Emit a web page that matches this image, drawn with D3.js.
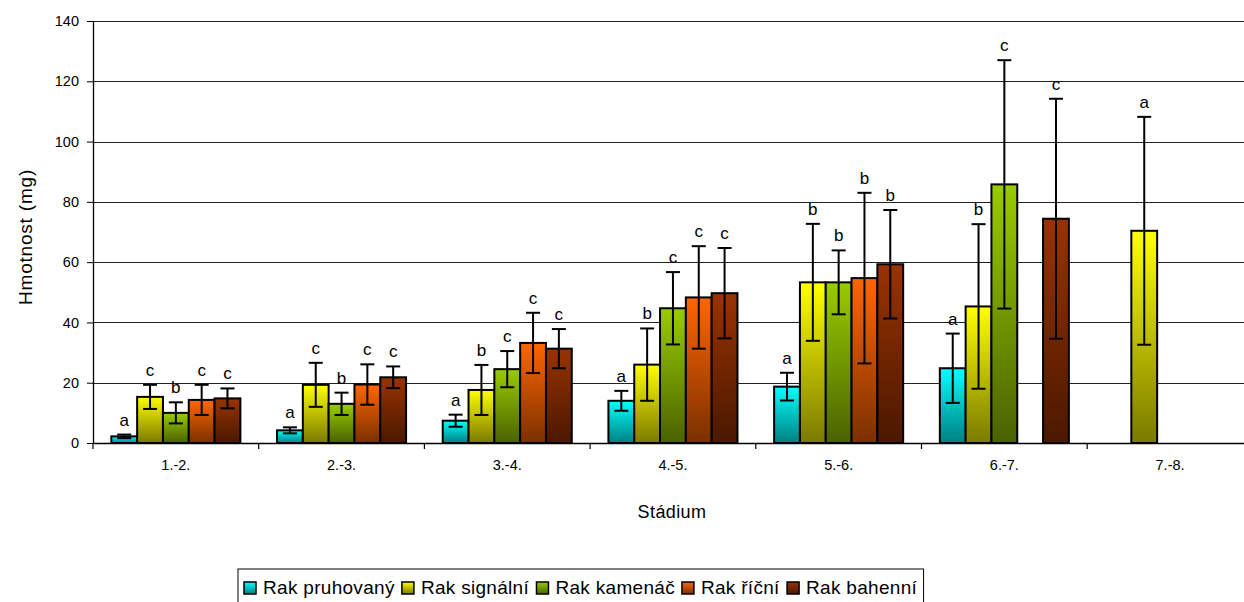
<!DOCTYPE html>
<html>
<head>
<meta charset="utf-8">
<script src="https://cdn.jsdelivr.net/npm/d3@7"></script>
<style>
  html, body { margin: 0; padding: 0; background: #fff; }
  svg { display: block; font-family: "Liberation Sans", Arial, sans-serif; }
</style>
</head>
<body>
<svg id="chart" width="1244" height="602"></svg>
<script>
// Growth stages and crayfish species
const stages = ["1.-2.", "2.-3.", "3.-4.", "4.-5.", "5.-6.", "6.-7.", "7.-8."];
const species = ["Rak pruhovaný", "Rak signální", "Rak kamenáč", "Rak říční", "Rak bahenní"];

// Mean weight (mg) per species, one value per stage (null = no data)
const pruhovany = [2.2, 4.2, 7.4, 14.0, 18.7, 24.8, null];
const signalni  = [15.3, 19.3, 17.6, 26.0, 53.3, 45.3, 70.4];
const kamenac   = [10.0, 13.0, 24.5, 44.7, 53.3, 85.8, null];
const ricni     = [14.3, 19.4, 33.2, 48.3, 54.7, null, null];
const bahenni   = [14.8, 21.8, 31.3, 49.7, 59.3, 74.4, null];

// Standard deviations (mg)
const pruhovanySd = [0.6, 1.0, 2.0, 3.3, 4.6, 11.5, null];
const signalniSd  = [4.0, 7.3, 8.3, 12.0, 19.4, 27.3, 37.8];
const kamenacSd   = [3.5, 3.7, 6.0, 12.0, 10.6, 41.2, null];
const ricniSd     = [5.0, 6.7, 10.0, 17.0, 28.3, null, null];
const bahenniSd   = [3.3, 3.6, 6.5, 15.0, 18.0, 39.8, null];

// Significance letters
const pruhovanyLbl = ["a", "a", "a", "a", "a", "a", ""];
const signalniLbl  = ["c", "c", "b", "b", "b", "b", "a"];
const kamenacLbl   = ["b", "b", "c", "c", "b", "c", ""];
const ricniLbl     = ["c", "c", "c", "c", "b", "", ""];
const bahenniLbl   = ["c", "c", "c", "c", "b", "c", ""];

const yTicks = [0, 20, 40, 60, 80, 100, 120, 140];

const means = [pruhovany, signalni, kamenac, ricni, bahenni];
const sds = [pruhovanySd, signalniSd, kamenacSd, ricniSd, bahenniSd];
const letters = [pruhovanyLbl, signalniLbl, kamenacLbl, ricniLbl, bahenniLbl];

// top / bottom colours of each bar gradient
const gradTop = ["#00ffff", "#ffff00", "#99cc00", "#ff6600", "#993300"];
const gradBot = ["#008080", "#7a7a00", "#4a6200", "#7a3000", "#4a1800"];

const svg = d3.select("#chart");

const plotLeft = 93, plotTop = 21, plotBottom = 443;
const bandW = 165.7;
const x = d3.scaleBand().domain(stages).range([plotLeft, plotLeft + bandW * stages.length]).paddingInner(0).paddingOuter(0);
const xs = d3.scaleBand().domain(d3.range(species.length)).range([0, x.bandwidth()]).paddingOuter(0.71).paddingInner(0);
const y = d3.scaleLinear().domain([0, 140]).range([plotBottom, plotTop]);

const defs = svg.append("defs");
species.forEach((s, i) => {
  const g = defs.append("linearGradient").attr("id", "grad" + i)
    .attr("x1", 0).attr("y1", 0).attr("x2", 0).attr("y2", 1);
  g.append("stop").attr("offset", "0%").attr("stop-color", gradTop[i]);
  g.append("stop").attr("offset", "100%").attr("stop-color", gradBot[i]);
});

// gridlines
svg.append("g").selectAll("line").data(yTicks.filter(d => d > 0)).join("line")
  .attr("x1", plotLeft).attr("x2", 1244)
  .attr("y1", d => Math.round(y(d)) + 0.5).attr("y2", d => Math.round(y(d)) + 0.5)
  .attr("stroke", "#222").attr("stroke-width", 1);

// y axis
const yAxis = svg.append("g").attr("transform", `translate(${plotLeft},0)`)
  .call(d3.axisLeft(y).tickValues(yTicks).tickSize(6).tickSizeOuter(0).tickPadding(8));
yAxis.select(".domain").attr("stroke", "#000").attr("stroke-width", 1.3);
yAxis.selectAll(".tick line").attr("stroke", "#000");
yAxis.selectAll("text").attr("font-size", 14.5).attr("fill", "#000").style("font-family", "Liberation Sans, Arial, sans-serif");

// bars
const rows = [];
stages.forEach((st, ci) => species.forEach((sp, si) => {
  if (means[si][ci] != null) rows.push({ st, si, v: means[si][ci], sd: sds[si][ci], lbl: letters[si][ci] });
}));

const barG = svg.append("g");
barG.selectAll("rect").data(rows).join("rect")
  .attr("x", d => x(d.st) + xs(d.si))
  .attr("width", xs.bandwidth())
  .attr("y", d => y(d.v))
  .attr("height", d => y(0) - y(d.v))
  .attr("fill", d => `url(#grad${d.si})`)
  .attr("stroke", "#000").attr("stroke-width", 2);

// x axis
const xAxis = svg.append("g").attr("transform", `translate(0,${plotBottom})`)
  .call(d3.axisBottom(x).tickSize(0).tickPadding(17));
xAxis.select(".domain").attr("stroke", "#000").attr("stroke-width", 1.3);
xAxis.selectAll("text").attr("font-size", 14.5).attr("fill", "#000").style("font-family", "Liberation Sans, Arial, sans-serif");
svg.append("g").selectAll("line").data(d3.range(stages.length + 1)).join("line")
  .attr("x1", i => plotLeft + i * bandW).attr("x2", i => plotLeft + i * bandW)
  .attr("y1", plotBottom).attr("y2", plotBottom + 6)
  .attr("stroke", "#000").attr("stroke-width", 1.2);

// error bars
const cx = d => x(d.st) + xs(d.si) + xs.bandwidth() / 2;
const errG = svg.append("g").attr("stroke", "#000").attr("stroke-width", 2);
rows.forEach(d => {
  const c = cx(d), y1 = y(d.v + d.sd), y2 = y(d.v - d.sd);
  errG.append("line").attr("x1", c).attr("x2", c).attr("y1", y1).attr("y2", y2);
  errG.append("line").attr("x1", c - 7).attr("x2", c + 7).attr("y1", y1).attr("y2", y1);
  errG.append("line").attr("x1", c - 7).attr("x2", c + 7).attr("y1", y2).attr("y2", y2);
});

// significance letters
svg.append("g").selectAll("text").data(rows.filter(d => d.lbl)).join("text")
  .attr("x", cx)
  .attr("y", d => y(d.v + d.sd) - 9)
  .attr("text-anchor", "middle")
  .attr("font-size", 17).attr("fill", "#000")
  .text(d => d.lbl);

// axis titles
svg.append("text").attr("transform", `translate(32,${(plotTop + plotBottom) / 2 + 5}) rotate(-90)`)
  .attr("text-anchor", "middle").attr("font-size", 19).attr("letter-spacing", 0.8).text("Hmotnost (mg)");
svg.append("text").attr("x", 672).attr("y", 518)
  .attr("text-anchor", "middle").attr("font-size", 18).attr("letter-spacing", 0.4).text("Stádium");

// legend (box runs past the bottom edge of the canvas)
const legend = svg.append("g");
const lgItems = legend.selectAll("g").data(species).join("g");
lgItems.append("rect").attr("y", -12).attr("width", 12).attr("height", 12)
  .attr("fill", (d, i) => `url(#grad${i})`).attr("stroke", "#000").attr("stroke-width", 1.5);
lgItems.append("text").attr("x", 19).attr("y", 0).attr("font-size", 19).attr("letter-spacing", 0.3).text(d => d);
let lx = 0;
lgItems.each(function () {
  d3.select(this).attr("transform", `translate(${lx},0)`);
  lx += this.getBBox().width + 7;
});
const lgW = lx - 7 + 12, lgX = 238;
legend.insert("rect", ":first-child").attr("x", -6).attr("y", -25).attr("width", lgW).attr("height", 60)
  .attr("fill", "#fff").attr("stroke", "#000").attr("stroke-width", 1);
legend.attr("transform", `translate(${lgX + 6},594)`);
</script>
</body>
</html>
